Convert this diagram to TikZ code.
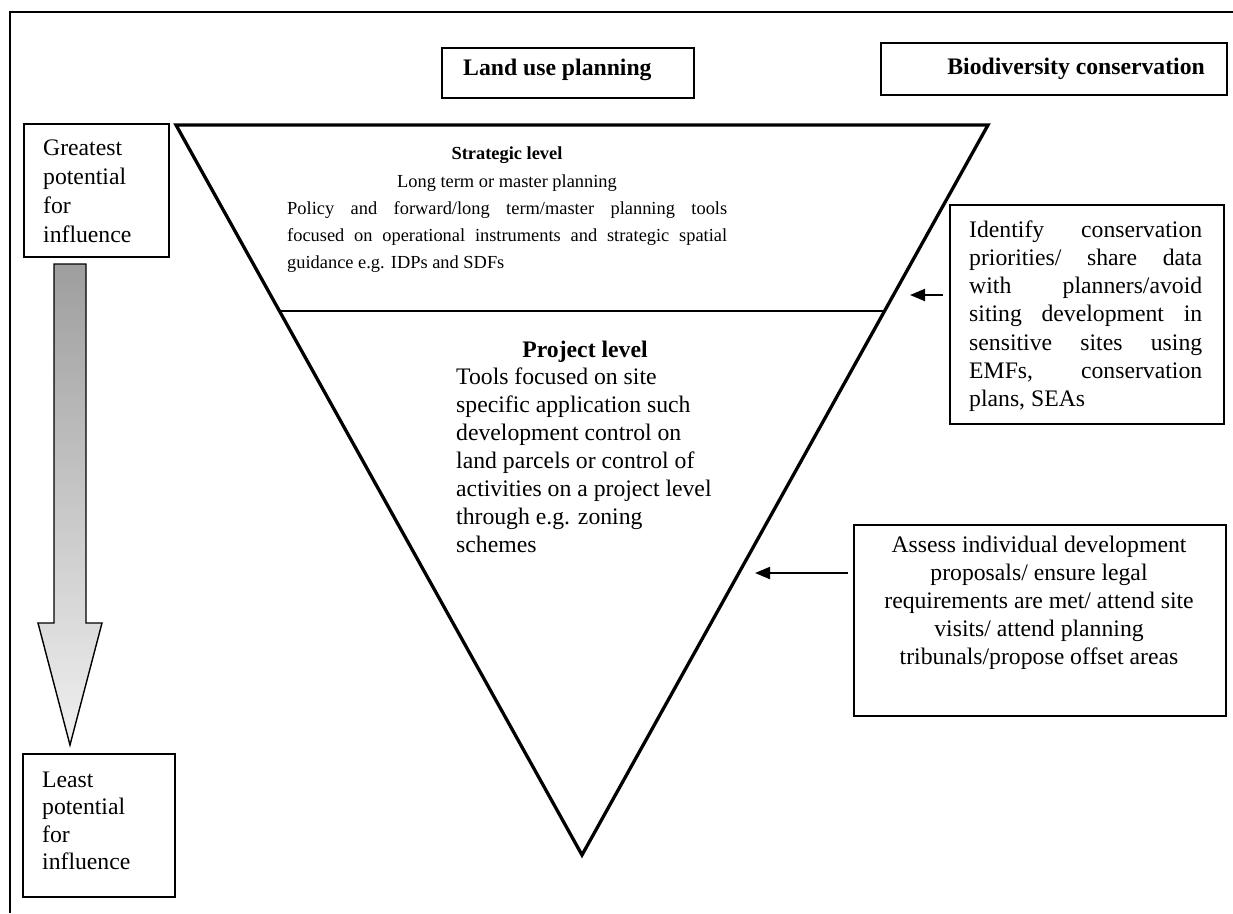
\documentclass[tikz,border=0pt]{standalone}
\usepackage{fontspec}
\setmainfont{Liberation Serif}
\usetikzlibrary{arrows.meta,calc}
\definecolor{gtop}{RGB}{158,158,158}
\definecolor{gbot}{RGB}{240,240,240}
\tolerance=10000
\hbadness=10000
\begin{document}
\begin{tikzpicture}[x=1pt,y=-1pt,
  bigtxt/.style={font=\fontsize{23.7}{28}\selectfont, inner sep=0pt},
  smalltxt/.style={font=\fontsize{18.4}{27}\selectfont, inner sep=0pt},
  boxst/.style={draw, line width=1.6pt, rectangle, inner sep=0pt, anchor=north west},
  conn/.style={line width=2pt, -{Triangle[length=15pt,width=12pt]}}]

\useasboundingbox (0,0) rectangle (1233,913);
\fill[white] (0,0) rectangle (1233,913);

% outer frame (left and top)
\draw[line width=1.5pt] (10,913) -- (10,12) -- (1240,12);

% inverted triangle
\coordinate (tl) at (176,125);
\coordinate (tr) at (988,125);
\coordinate (bt) at (582,855);
\draw[line width=3.3pt, line join=miter] (tl) -- (tr) -- (bt) -- cycle;
\draw[line width=1.6pt] ($(tl)!0.2548!(bt)$) -- ($(tr)!0.2548!(bt)$);

% header boxes
\node[boxst, minimum width=252pt, minimum height=50pt] (landbox) at (441,47) {};
\node[bigtxt, font=\fontsize{23.7}{28}\selectfont\bfseries, anchor=base west] (landtxt) at (463,75) {Land use planning};
\node[boxst, minimum width=346pt, minimum height=52pt] (biobox) at (880,42) {};
\node[bigtxt, font=\fontsize{23.7}{28}\selectfont\bfseries, anchor=base east] (biotxt) at (1205,74) {Biodiversity conservation};

% left boxes (base anchor = baseline of last line)
\node[boxst, minimum width=145pt, minimum height=133pt] (greatbox) at (23,123) {};
\node[bigtxt, font=\fontsize{23.7}{29}\selectfont, anchor=base west, align=left] (greattxt) at (43,242) {Greatest\\potential\\for\\influence};
\node[boxst, minimum width=152pt, minimum height=143pt] (leastbox) at (22,753) {};
\node[bigtxt, font=\fontsize{23.7}{27.5}\selectfont, anchor=base west, align=left] (leasttxt) at (42,869.5) {Least\\potential\\for\\influence};

% gradient arrow
\shadedraw[top color=gtop, bottom color=gbot, line width=1.4pt, line join=miter]
  (54,264) -- (86,264) -- (86,623) -- (102,623) -- (70,745) -- (38,623) -- (54,623) -- cycle;

% strategic level text
\node[smalltxt, font=\fontsize{18.4}{27}\selectfont\bfseries, anchor=base] (sttitle) at (507,159) {Strategic level};
\node[smalltxt, anchor=base] (stsub) at (507,187) {Long term or master planning};
\node[smalltxt, anchor=base west, text width=440pt, align=justify] (stbody) at (287,214)
  {Policy and forward/long term/master planning tools\linebreak focused on operational instruments and strategic spatial\linebreak guidance e.g. IDPs and SDFs};

% project level text
\node[bigtxt, font=\fontsize{23.7}{28}\selectfont\bfseries, anchor=base] (prtitle) at (585,357) {Project level};
\node[bigtxt, anchor=base west, align=left] (prbody) at (456,552)
  {Tools focused on site\\specific application such\\development control on\\land parcels or control of\\activities on a project level\\through e.g. zoning\\schemes};

% right boxes
\node[boxst, minimum width=274pt, minimum height=219pt] (ident) at (949,204) {};
\node[bigtxt, font=\fontsize{23.7}{28.3}\selectfont, anchor=base west, text width=233pt, align=justify] (identtxt) at (969,237)
  {Identify conservation\linebreak priorities/ share data\linebreak with planners/avoid\linebreak siting development in\linebreak sensitive sites using\linebreak EMFs, conservation\linebreak plans, SEAs};
\node[boxst, minimum width=372pt, minimum height=191pt] (assess) at (853,524) {};
\node[bigtxt, anchor=base, align=center] (assesstxt) at (1039,664)
  {Assess individual development\\proposals/ ensure legal\\requirements are met/ attend site\\visits/ attend planning\\tribunals/propose offset areas};

% connectors
\coordinate (a1e) at (910,295);
\draw[conn, shorten <=6pt] (ident.west |- a1e) -- (a1e);
\coordinate (a2e) at (755,573);
\draw[conn, shorten <=5pt] (assess.west |- a2e) -- (a2e);
\end{tikzpicture}
\end{document}
